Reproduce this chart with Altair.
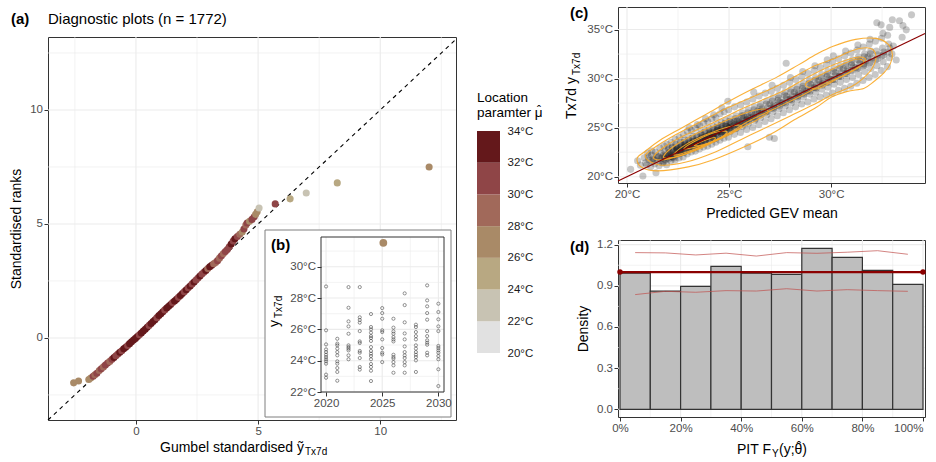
import altair as alt
import pandas as pd

FONT = "Liberation Sans"
INK = "#333333"
LABEL_GREY = "#4d4d4d"
GRID = "#ebebeb"
DARKRED = "#8b0000"
DEG = "datum.value + '°C'"

# ---------------- (a) Gumbel standardised values vs standardised ranks ----------------
a_x_lim = [-3.6, 13.1]
a_y_lim = [-3.6, 13.2]
a_major = [0, 5, 10]
a_minor = [-2.5, 2.5, 7.5, 12.5]

gumbel_std = [-2.55, -2.35, -1.93, -1.85, -1.75, -1.68, -1.60, -1.50, -1.42, -1.33,
              -1.25, -1.16, -1.07, -0.98, -0.90, -0.82, -0.74, -0.66, -0.58, -0.50,
              -0.42, -0.34, -0.26, -0.18, -0.10, -0.02, 0.06, 0.14, 0.22, 0.30,
              0.38, 0.46, 0.54, 0.62, 0.70, 0.78, 0.86, 0.94, 1.02, 1.10,
              1.18, 1.26, 1.34, 1.42, 1.50, 1.58, 1.66, 1.74, 1.82, 1.90,
              1.98, 2.06, 2.14, 2.22, 2.30, 2.38, 2.46, 2.54, 2.62, 2.70,
              2.78, 2.86, 2.94, 3.02, 3.10, 3.18, 3.26, 3.34, 3.42, 3.50,
              3.58, 3.66, 3.74, 3.82, 3.90, 3.98, 4.05, 4.15, 4.25, 4.35,
              4.42, 4.50, 4.55, 4.65, 4.75, 4.84, 4.90, 4.96, 5.04, 5.70,
              6.31, 6.97, 8.24, 12.00]
std_rank = [-1.97, -1.89, -1.82, -1.76, -1.68, -1.62, -1.55, -1.43, -1.35, -1.27,
            -1.19, -1.10, -1.03, -0.94, -0.86, -0.78, -0.71, -0.63, -0.56, -0.48,
            -0.41, -0.33, -0.25, -0.17, -0.09, -0.02, 0.06, 0.14, 0.22, 0.30,
            0.38, 0.47, 0.55, 0.63, 0.72, 0.80, 0.89, 0.98, 1.06, 1.15,
            1.23, 1.31, 1.39, 1.47, 1.55, 1.62, 1.70, 1.78, 1.86, 1.95,
            2.03, 2.11, 2.20, 2.28, 2.37, 2.45, 2.54, 2.63, 2.72, 2.80,
            2.88, 2.96, 3.04, 3.12, 3.19, 3.25, 3.31, 3.39, 3.50, 3.60,
            3.70, 3.79, 3.88, 4.00, 4.12, 4.25, 4.35, 4.45, 4.55, 4.65,
            4.78, 4.95, 5.04, 5.12, 5.20, 5.31, 5.42, 5.53, 5.70, 5.88,
            6.10, 6.36, 6.80, 7.50]
loc_mu = [27, 27, 27, 27, 31, 29, 31, 29, 31, 29,
          31, 31, 29, 31, 33, 31, 31, 33, 31, 33,
          33, 31, 33, 33, 33, 33, 33, 31, 33, 33,
          33, 33, 31, 33, 33, 33, 31, 33, 33, 33,
          31, 33, 33, 33, 31, 33, 33, 31, 33, 33,
          31, 33, 31, 33, 31, 33, 31, 31, 33, 31,
          31, 33, 29, 33, 33, 29, 29, 31, 29, 31,
          29, 31, 31, 31, 33, 31, 33, 31, 29, 27,
          31, 29, 31, 27, 31, 31, 27, 27, 23, 31,
          25, 23, 25, 27]

# binned colour key for the location parameter (°C)
mu_breaks = [22, 24, 26, 28, 30, 32]
mu_colors = ["#e1e1e1", "#c8c3b3", "#b8a882", "#a98a67", "#a1695a", "#8f4547", "#64181b"]
key_lo = [20, 22, 24, 26, 28, 30, 32]
key_hi = [22, 24, 26, 28, 30, 32, 34]
key_ticks = [20, 22, 24, 26, 28, 30, 32, 34]

# ---------------- (b) inset: Tx7d per year ----------------
b_year_lim = [2019.55, 2030.5]
b_temp_lim = [22.0, 31.9]
b_year_major = [2020, 2025, 2030]
b_year_minor = [2022.5, 2027.5]
b_temp_major = [22, 24, 26, 28, 30]
b_temp_minor = [23, 25, 27, 29, 31]
tx7d_by_year = {
    2020: [28.74, 25.94, 25.04, 24.72, 24.55, 24.38, 24.23, 24.09, 23.96, 23.81, 23.11, 22.91],
    2021: [25.40, 25.09, 24.98, 24.77, 24.55, 24.34, 23.96, 23.81, 23.53, 23.28, 22.72],
    2022: [28.70, 27.38, 26.51, 26.19, 25.72, 24.98, 24.87, 24.77, 24.66, 24.34, 24.09],
    2023: [28.70, 26.77, 26.60, 26.43, 25.89, 25.23, 25.13, 24.62, 24.51, 24.17, 23.60, 23.43],
    2024: [26.98, 26.15, 26.00, 25.79, 25.57, 25.45, 25.26, 24.87, 24.62, 24.45, 24.30, 24.09,
           23.79, 23.60, 23.36, 22.70],
    2025: [27.36, 27.04, 26.68, 25.94, 25.83, 25.36, 24.81, 24.51, 24.40, 23.91],
    2026: [26.68, 26.11, 25.87, 25.72, 25.51, 25.36, 25.23, 24.38, 24.23, 24.13, 23.91, 23.70, 23.23],
    2027: [28.30, 27.55, 26.45, 25.74, 25.36, 24.91, 24.55, 24.34, 24.17, 23.91, 23.70, 23.23],
    2028: [26.30, 26.15, 25.83, 25.57, 25.36, 24.98, 24.77, 24.55, 24.38, 24.23, 24.02, 23.28],
    2029: [28.81, 27.85, 27.47, 27.04, 26.62, 25.89, 25.57, 25.30, 25.15, 25.02, 24.51, 24.34],
    2030: [27.64, 27.11, 26.64, 26.19, 25.89, 24.94, 24.81, 24.66, 24.51, 24.30, 24.09, 23.45, 22.38],
}
record_year = [2025.1]
record_tx7d = [31.53]
record_mu = [27]

# ---------------- (c) observed Tx7d vs predicted GEV mean ----------------
c_x_lim = [19.56, 34.6]
c_y_lim = [19.36, 37.3]
c_x_major = [20, 25, 30]
c_x_minor = [22.5, 27.5, 32.5]
c_y_major = [20, 25, 30, 35]
c_y_minor = [22.5, 27.5, 32.5]

pred_low = [20.18, 20.52, 20.66, 20.78, 20.84, 20.91, 20.97, 21.04, 21.08, 21.01,
            21.16, 21.24, 21.19, 21.27, 21.22, 21.42, 21.36, 21.45, 21.39, 21.47, 21.33,
            21.57, 21.64, 21.55, 21.68, 21.61, 21.66, 21.74, 21.83, 21.78, 21.86, 21.81, 21.76, 21.88,
            21.94, 22.05, 21.98, 22.07, 22.02, 21.96, 22.09, 22.04,
            22.15, 22.24, 22.18, 22.27, 22.21, 22.16, 22.26, 22.23,
            22.35, 22.44, 22.38, 22.47, 22.41, 22.36, 22.46, 22.43, 22.39,
            22.55, 22.64, 22.58, 22.67, 22.61, 22.56, 22.66, 22.63, 22.59,
            22.75, 22.84, 22.78, 22.87, 22.81, 22.76, 22.86, 22.83, 22.79]
obs_low = [20.75, 21.62, 21.18, 20.07, 21.93, 21.41, 21.22, 22.02, 21.71, 22.41,
           21.02, 21.53, 22.21, 21.84, 22.63, 20.40, 21.31, 21.93, 22.52, 22.12, 21.72,
           21.12, 21.61, 22.03, 22.42, 22.93, 21.83, 21.41, 21.92, 22.22, 22.61, 23.12, 22.03, 21.72,
           21.23, 21.82, 22.13, 22.41, 22.72, 23.31, 22.02, 22.93,
           21.62, 22.03, 22.32, 22.61, 22.92, 23.52, 22.21, 23.03,
           21.71, 22.22, 22.51, 22.83, 23.12, 23.82, 22.41, 22.72, 23.31,
           21.92, 22.42, 22.71, 23.02, 23.33, 24.03, 22.62, 23.52, 22.93,
           22.02, 22.61, 22.92, 23.23, 23.52, 24.31, 22.81, 23.72, 23.02]

pred_core = [22.95, 23.04, 22.98, 23.07, 23.01, 22.96, 23.06, 23.03, 22.99, 23.05,
             23.15, 23.24, 23.18, 23.27, 23.21, 23.16, 23.26, 23.23, 23.19,
             23.35, 23.44, 23.38, 23.47, 23.41, 23.36, 23.46, 23.43, 23.39, 23.45,
             23.55, 23.64, 23.58, 23.67, 23.61, 23.56, 23.66, 23.63, 23.59,
             23.75, 23.84, 23.78, 23.87, 23.81, 23.76, 23.86, 23.83, 23.79, 23.85,
             23.95, 24.04, 23.98, 24.07, 24.01, 23.96, 24.06, 24.03, 23.99,
             24.15, 24.24, 24.18, 24.27, 24.21, 24.16, 24.26, 24.23, 24.19, 24.25,
             24.35, 24.44, 24.38, 24.47, 24.41, 24.36, 24.46, 24.43, 24.39,
             24.55, 24.64, 24.58, 24.67, 24.61, 24.56, 24.66, 24.63, 24.59, 24.65,
             24.75, 24.84, 24.78, 24.87, 24.81, 24.76, 24.86, 24.83, 24.94]
obs_core = [22.31, 22.82, 23.12, 23.41, 23.72, 24.62, 23.02, 23.92, 23.22, 25.01,
            22.52, 23.02, 23.31, 23.62, 23.93, 24.72, 23.21, 24.12, 23.42,
            22.61, 23.12, 23.42, 23.71, 24.02, 24.93, 23.32, 24.21, 23.52, 25.31,
            22.82, 23.31, 23.62, 23.92, 24.32, 25.22, 23.52, 24.51, 23.82,
            23.02, 23.52, 23.82, 24.12, 24.52, 25.51, 23.72, 24.71, 24.02, 25.92,
            23.12, 23.72, 24.02, 24.31, 24.62, 25.62, 23.92, 24.91, 24.22,
            23.31, 23.82, 24.22, 24.52, 24.82, 25.91, 24.12, 25.12, 24.42, 26.31,
            23.52, 24.02, 24.42, 24.72, 25.02, 26.02, 24.32, 25.31, 24.62,
            23.72, 24.22, 24.62, 24.92, 25.22, 26.42, 24.52, 25.52, 24.82, 27.02,
            23.92, 24.42, 24.82, 25.12, 25.42, 26.62, 24.72, 25.72, 27.70]

pred_mid = [24.97, 25.06, 25.01, 25.09, 25.03, 24.98, 25.08, 25.05, 25.02,
            25.26, 25.35, 25.29, 25.38, 25.32, 25.27, 25.37, 25.34,
            25.56, 25.65, 25.59, 25.68, 25.62, 25.57, 25.67, 25.64, 25.92,
            25.86, 25.95, 25.89, 25.98, 25.92, 25.87, 25.97, 25.94,
            26.16, 26.25, 26.19, 26.28, 26.22, 26.17, 26.27, 26.24, 26.21,
            26.46, 26.55, 26.49, 26.58, 26.52, 26.47, 26.57, 26.54,
            26.76, 26.85, 26.79, 26.88, 26.82, 26.77, 26.87, 26.84, 26.98,
            27.06, 27.15, 27.09, 27.18, 27.12, 27.07, 27.17, 27.14, 27.11, 27.22,
            27.36, 27.45, 27.39, 27.48, 27.42, 27.37, 27.47, 27.44,
            27.66, 27.75, 27.69, 27.78, 27.72, 27.67, 27.77, 27.74, 27.80]
obs_mid = [24.02, 24.62, 25.02, 25.32, 25.62, 26.82, 24.92, 25.92, 25.22,
           24.32, 24.92, 25.32, 25.62, 25.92, 27.12, 25.22, 26.22,
           24.52, 25.12, 25.52, 25.82, 26.22, 27.32, 25.42, 26.52, 23.06,
           24.82, 25.42, 25.82, 26.12, 26.52, 27.62, 25.72, 26.82,
           25.02, 25.72, 26.12, 26.42, 26.82, 27.92, 26.02, 27.12, 28.62,
           25.32, 26.02, 26.42, 26.72, 27.12, 28.22, 26.32, 27.42,
           25.62, 26.32, 26.72, 27.02, 27.42, 28.52, 26.62, 27.72, 24.02,
           25.92, 26.62, 27.02, 27.32, 27.72, 28.72, 26.92, 28.02, 29.32, 23.90,
           26.22, 26.92, 27.32, 27.62, 28.02, 29.02, 27.22, 28.32,
           26.52, 27.22, 27.62, 27.92, 28.32, 29.32, 27.52, 28.62, 31.57]

pred_high = [27.96, 28.05, 27.99, 28.08, 28.02, 27.97, 28.07, 28.04, 28.01,
             28.26, 28.35, 28.29, 28.38, 28.32, 28.27, 28.37, 28.34,
             28.56, 28.65, 28.59, 28.68, 28.62, 28.57, 28.67, 28.64, 28.61,
             28.86, 28.95, 28.89, 28.98, 28.92, 28.87, 28.97, 28.94,
             29.16, 29.25, 29.19, 29.28, 29.22, 29.17, 29.27, 29.24, 29.21,
             29.46, 29.55, 29.49, 29.58, 29.52, 29.47, 29.57, 29.54,
             29.76, 29.85, 29.79, 29.88, 29.82, 29.77, 29.87, 29.84, 29.81,
             30.06, 30.15, 30.09, 30.18, 30.12, 30.07, 30.17, 30.14, 30.11,
             30.36, 30.45, 30.39, 30.48, 30.42, 30.37, 30.47, 30.44,
             30.66, 30.75, 30.69, 30.78, 30.72, 30.67, 30.77, 30.74, 30.71]
obs_high = [26.82, 27.52, 27.92, 28.22, 28.62, 29.62, 27.82, 28.92, 30.12,
            27.12, 27.82, 28.22, 28.52, 28.92, 29.92, 28.12, 29.22,
            27.42, 28.12, 28.52, 28.82, 29.22, 30.22, 28.42, 29.52, 30.72,
            27.62, 28.42, 28.82, 29.12, 29.52, 30.52, 28.72, 29.82,
            27.92, 28.62, 29.12, 29.42, 29.82, 30.82, 29.02, 30.12, 31.32,
            28.12, 28.92, 29.42, 29.72, 30.12, 31.12, 29.32, 30.42,
            28.32, 29.12, 29.62, 30.02, 30.42, 31.42, 29.62, 30.72, 31.92,
            28.52, 29.42, 29.92, 30.32, 30.72, 31.72, 29.92, 31.02, 32.32,
            28.82, 29.62, 30.22, 30.62, 31.02, 32.02, 30.22, 31.32,
            29.02, 29.92, 30.52, 30.92, 31.32, 32.32, 30.52, 31.62, 32.82]

pred_top = [30.96, 31.05, 30.99, 31.08, 31.02, 30.97, 31.07, 31.04,
            31.26, 31.35, 31.29, 31.38, 31.32, 31.27, 31.37, 31.34, 31.31,
            31.56, 31.65, 31.59, 31.68, 31.62, 31.57, 31.67, 31.64,
            31.86, 31.95, 31.89, 31.98, 31.92, 31.87, 31.97, 31.94, 31.91,
            32.16, 32.25, 32.19, 32.28, 32.22, 32.17, 32.27, 32.24, 32.45,
            32.46, 32.55, 32.49, 32.58, 32.52, 32.47, 32.57, 32.54,
            32.76, 32.85, 32.79, 32.88, 32.82, 32.77, 32.87,
            33.00, 33.05, 32.98, 33.19, 33.35, 33.68, 33.94, 33.48, 33.52]
obs_top = [29.22, 30.12, 30.82, 31.22, 31.62, 32.62, 30.82, 31.92,
           29.52, 30.42, 31.02, 31.52, 31.92, 32.92, 31.12, 32.22, 33.42,
           29.82, 30.72, 31.32, 31.82, 32.22, 33.22, 31.42, 32.52,
           30.12, 31.02, 31.62, 32.12, 32.52, 33.52, 31.72, 32.82, 34.02,
           30.42, 31.32, 31.92, 32.42, 32.82, 33.82, 32.02, 35.70, 35.48,
           30.82, 31.72, 32.32, 32.72, 33.12, 34.12, 32.42, 34.62,
           31.22, 32.12, 32.72, 33.12, 33.52, 34.42, 35.22,
           36.00, 33.32, 32.52, 31.90, 35.90, 34.97, 36.50, 34.22, 35.42]

# densely packed points close to the 1:1 line
pred_dense = [21.8, 21.9, 22.0, 22.1, 22.2, 22.3, 22.4, 22.5, 22.6, 22.7,
              22.8, 22.9, 23.0, 23.1, 23.2, 23.3, 23.4, 23.5, 23.6, 23.7,
              23.8, 23.9, 24.0, 24.1, 24.2, 24.3, 24.4, 24.5, 24.6, 24.7,
              24.8, 24.9, 25.0, 25.1, 25.2, 25.3, 25.4, 25.5, 25.6, 25.7,
              25.8, 25.9, 26.0, 26.1, 26.2, 26.3, 26.4, 26.5,
              22.05, 22.25, 22.45, 22.65, 22.85, 23.05, 23.25, 23.45, 23.65, 23.85,
              24.05, 24.25, 24.45, 24.65, 24.85, 25.05, 25.25, 25.45, 25.65, 25.85,
              26.6, 26.8, 27.0, 27.2, 27.4, 27.6, 27.8, 28.0, 28.2, 28.4,
              28.6, 28.8, 29.0, 29.2, 29.4, 29.6, 29.8, 30.0, 30.2, 30.4,
              30.6, 30.8, 31.0, 31.2, 31.4, 31.6, 31.8]
obs_dense = [21.5, 22.1, 21.9, 22.5, 22.2, 21.9, 22.7, 22.6, 22.4, 23.2,
             22.5, 23.1, 22.9, 23.5, 23.2, 22.9, 23.7, 23.6, 23.4, 24.2,
             23.5, 24.1, 23.9, 24.5, 24.2, 23.9, 24.7, 24.6, 24.4, 25.2,
             24.5, 25.1, 24.9, 25.5, 25.2, 24.9, 25.7, 25.6, 25.4, 26.2,
             25.5, 26.1, 25.9, 26.5, 26.2, 25.9, 26.7, 26.6,
             22.3, 22.0, 22.9, 22.7, 23.3, 23.0, 23.6, 23.3, 24.0, 23.8,
             24.4, 24.0, 24.9, 24.6, 25.2, 25.0, 25.6, 25.3, 26.0, 25.8,
             26.9, 26.6, 27.4, 27.1, 27.8, 27.5, 28.2, 27.9, 28.6, 28.3,
             29.0, 28.7, 29.4, 29.1, 29.8, 29.5, 30.2, 29.9, 30.6, 30.3,
             31.0, 30.7, 31.4, 31.1, 31.8, 31.5, 32.2]

# 2-D density contour rings (predicted, observed)
ring1_pred = [20.5, 20.9, 21.6, 22.7, 23.9, 25.0, 26.0, 27.3, 28.4, 29.3, 30.1, 31.2, 32.2, 32.8,
              33.0, 32.9, 32.6, 32.1, 31.6, 30.8, 30.0, 29.3, 28.2, 27.1, 25.7, 24.2, 23.0, 21.5, 20.7]
ring1_obs = [21.9, 22.6, 23.7, 25.0, 26.4, 27.7, 28.8, 30.1, 31.4, 32.5, 33.3, 34.0, 34.1, 33.5,
             32.5, 31.5, 30.6, 29.7, 29.0, 28.7, 28.1, 27.1, 25.8, 24.4, 23.0, 21.7, 21.0, 20.6, 21.0]
ring2_pred = [20.9, 21.3, 22.4, 23.6, 24.8, 26.0, 27.2, 28.3, 29.2, 30.1, 31.1, 31.9, 32.2, 32.0,
              31.5, 31.0, 30.1, 29.1, 28.0, 26.9, 25.6, 24.3, 22.9, 21.6]
ring2_obs = [22.0, 22.9, 24.3, 25.6, 26.9, 28.0, 29.1, 30.3, 31.3, 32.0, 32.9, 33.1, 32.3, 31.0,
             29.9, 29.2, 28.4, 27.3, 26.2, 25.1, 23.8, 22.5, 21.5, 21.2]
ring3_pred = [21.3, 21.8, 22.8, 24.0, 25.3, 26.6, 27.8, 28.9, 30.0, 30.9, 31.4, 31.7, 31.4, 30.6,
              29.6, 28.5, 27.2, 26.0, 24.8, 23.5, 22.2, 21.6]
ring3_obs = [22.0, 23.0, 24.2, 25.3, 26.6, 27.8, 28.9, 30.2, 31.3, 32.0, 32.2, 31.9, 31.2, 30.3,
             29.4, 28.2, 26.9, 25.7, 24.2, 22.8, 21.9, 21.7]
ring4_pred = [21.8, 22.3, 23.3, 24.6, 25.8, 26.7, 26.9, 26.3, 25.2, 23.9, 22.7, 22.0]
ring4_obs = [22.1, 23.1, 24.3, 25.5, 26.5, 26.9, 26.5, 25.7, 24.6, 23.3, 22.2, 21.9]
ring5_pred = [22.3, 22.9, 23.9, 25.0, 25.6, 25.3, 24.4, 23.3, 22.6]
ring5_obs = [22.3, 23.3, 24.3, 25.1, 25.2, 24.6, 23.7, 22.8, 22.3]
ring6_pred = [22.8, 23.4, 24.3, 24.9, 24.6, 23.7, 23.1]
ring6_obs = [22.9, 23.7, 24.5, 24.6, 24.0, 23.2, 22.9]
ring7_pred = [23.3, 23.8, 24.3, 24.2, 23.6]
ring7_obs = [23.2, 23.7, 24.0, 23.6, 23.2]
ring8_pred = [28.8, 29.8, 30.7, 31.3, 31.6, 31.2, 30.4, 29.4, 28.9]
ring8_obs = [29.6, 30.7, 31.6, 32.0, 31.7, 31.0, 30.1, 29.0, 29.1]

# ---------------- (d) PIT histogram ----------------
d_x_lim = [-0.0066, 1.0066]
d_y_lim = [-0.056, 1.234]
d_x_major = [0, 0.2, 0.4, 0.6, 0.8, 1.0]
d_x_minor = [0.1, 0.3, 0.5, 0.7, 0.9]
d_y_major = [0, 0.3, 0.6, 0.9, 1.2]
d_y_minor = [0.15, 0.45, 0.75, 1.05]
pit_lo = [0.0, 0.1, 0.2, 0.3, 0.4, 0.5, 0.6, 0.7, 0.8, 0.9]
pit_hi = [0.1, 0.2, 0.3, 0.4, 0.5, 0.6, 0.7, 0.8, 0.9, 1.0]
pit_density = [0.993, 0.862, 0.896, 1.042, 0.993, 0.984, 1.173, 1.108, 1.013, 0.911]
pit_mid = [0.05, 0.15, 0.25, 0.35, 0.45, 0.55, 0.65, 0.75, 0.85, 0.95]
band_upper = [1.142, 1.140, 1.125, 1.138, 1.117, 1.142, 1.137, 1.145, 1.156, 1.130]
band_lower = [0.836, 0.860, 0.853, 0.865, 0.862, 0.879, 0.862, 0.872, 0.865, 0.860]
uniform_x = [0.0, 1.0]
uniform_density = [1.0, 1.0]

# ======================================================================
color_scale = alt.Scale(type="threshold", domain=mu_breaks, range=mu_colors)
NO_FRAME = alt.ViewBackground(stroke="transparent")


def lin(domain, rng=None):
    if rng is None:
        return alt.Scale(domain=domain, nice=False, zero=False)
    return alt.Scale(domain=domain, range=rng, nice=False, zero=False)


def label(text, x, y, size=14, weight="normal", align="left", angle=0, color="black"):
    kw = dict(align=align, baseline="alphabetic", font=FONT, fontSize=size,
              fontWeight=weight, color=color)
    if angle:
        kw["angle"] = angle
    return alt.Chart(pd.DataFrame({"t": [text]})).mark_text(**kw).encode(
        text="t:N", x=alt.value(x), y=alt.value(y))


def vgrid(values, sx, ax, width, span=None, sy=None, ay=None):
    df = pd.DataFrame({"v": values})
    enc = dict(x=alt.X("v:Q", scale=sx, axis=ax))
    if span is not None:
        df["lo"] = span[0]
        df["hi"] = span[1]
        enc["y"] = alt.Y("lo:Q", scale=sy, axis=ay)
        enc["y2"] = "hi:Q"
    return alt.Chart(df).mark_rule(color=GRID, strokeWidth=width).encode(**enc)


def hgrid(values, sy, ay, width, span=None, sx=None, ax=None):
    df = pd.DataFrame({"v": values})
    enc = dict(y=alt.Y("v:Q", scale=sy, axis=ay))
    if span is not None:
        df["lo"] = span[0]
        df["hi"] = span[1]
        enc["x"] = alt.X("lo:Q", scale=sx, axis=ax)
        enc["x2"] = "hi:Q"
    return alt.Chart(df).mark_rule(color=GRID, strokeWidth=width).encode(**enc)


# ---------------- panel (a) ----------------
W_A, H_A = 408, 383
sx_a, sy_a = lin(a_x_lim), lin(a_y_lim)
ax_a_x = alt.Axis(values=a_major, title=None)
ax_a_y = alt.Axis(values=a_major, title="Standardised ranks", titlePadding=6)

qq_df = pd.DataFrame({"g": gumbel_std, "r": std_rank, "mu": loc_mu})
diag_df = pd.DataFrame({"g": a_x_lim})

title_a = alt.layer(
    label("(a)", -37, 17, size=15, weight="bold"),
    label("Diagnostic plots (n = 1772)", 0, 17, size=15),
).properties(width=W_A, height=20, view=NO_FRAME)

panel_a_main = alt.layer(
    vgrid(a_minor, sx_a, ax_a_x, 0.6),
    hgrid(a_minor, sy_a, ax_a_y, 0.6),
    vgrid(a_major, sx_a, ax_a_x, 1.1),
    hgrid(a_major, sy_a, ax_a_y, 1.1),
    alt.Chart(diag_df).mark_line(color="black", strokeDash=[4, 4], strokeWidth=1.1).encode(
        x=alt.X("g:Q", scale=sx_a, axis=ax_a_x), y=alt.Y("g:Q", scale=sy_a, axis=ax_a_y)),
    alt.Chart(qq_df).mark_circle(size=50, opacity=1).encode(
        x=alt.X("g:Q", scale=sx_a, axis=ax_a_x), y=alt.Y("r:Q", scale=sy_a, axis=ax_a_y),
        color=alt.Color("mu:Q", scale=color_scale, legend=None)),
    label("Gumbel standardised ỹ", 256, 415, size=14, align="right"),
    label("Tx7d", 257, 418, size=10),
)

# inset (b), drawn inside panel (a) on its own scales
sx_b = lin(b_year_lim, [273, 396])
sy_b = lin(b_temp_lim, [355, 200])
ax_b_x = alt.Axis(values=b_year_major, format="d", orient="bottom", offset=-28, title=None, zindex=2)
ax_b_y = alt.Axis(values=b_temp_major, labelExpr=DEG, orient="left", offset=-273, title=None, zindex=2)

yr, tx = [], []
for year, vals in tx7d_by_year.items():
    yr += [year] * len(vals)
    tx += vals
inset_df = pd.DataFrame({"year": yr, "tx": tx})
record_df = pd.DataFrame({"year": record_year, "tx": record_tx7d, "mu": record_mu})
frame_df = pd.DataFrame({"x0": [b_year_lim[0]], "x1": [b_year_lim[1]],
                         "y0": [b_temp_lim[0]], "y1": [b_temp_lim[1]]})

panel_b = alt.layer(
    alt.Chart(pd.DataFrame({"k": [0]})).mark_rect(fill="white", stroke="#7f7f7f", strokeWidth=1).encode(
        x=alt.value(217), x2=alt.value(403), y=alt.value(193), y2=alt.value(380)),
    vgrid(b_year_minor, sx_b, ax_b_x, 0.6, b_temp_lim, sy_b, ax_b_y),
    hgrid(b_temp_minor, sy_b, ax_b_y, 0.6, b_year_lim, sx_b, ax_b_x),
    vgrid(b_year_major, sx_b, ax_b_x, 1.1, b_temp_lim, sy_b, ax_b_y),
    hgrid(b_temp_major, sy_b, ax_b_y, 1.1, b_year_lim, sx_b, ax_b_x),
    alt.Chart(inset_df).mark_point(shape="circle", filled=False, size=10, strokeWidth=0.8,
                                   color="#3a3a3a", opacity=0.7).encode(
        x=alt.X("year:Q", scale=sx_b, axis=ax_b_x), y=alt.Y("tx:Q", scale=sy_b, axis=ax_b_y)),
    alt.Chart(record_df).mark_circle(size=60, opacity=1).encode(
        x=alt.X("year:Q", scale=sx_b, axis=ax_b_x), y=alt.Y("tx:Q", scale=sy_b, axis=ax_b_y),
        color=alt.Color("mu:Q", scale=color_scale, legend=None)),
    alt.Chart(frame_df).mark_rect(fillOpacity=0, stroke=INK, strokeWidth=1).encode(
        x=alt.X("x0:Q", scale=sx_b, axis=ax_b_x), x2="x1:Q",
        y=alt.Y("y0:Q", scale=sy_b, axis=ax_b_y), y2="y1:Q"),
    label("(b)", 223, 213, size=15, weight="bold"),
    label("y", 231, 283, size=14, align="right", angle=270),
    label("Tx7d", 234, 281, size=10, align="left", angle=270),
)

# binned colour key to the right of panel (a)
sy_key = lin([20, 34], [316, 94])
ax_key = alt.Axis(values=key_ticks, labelExpr=DEG, orient="right", offset=44, ticks=False,
                  labelPadding=7, labelColor="#1a1a1a", title=None)
key_df = pd.DataFrame({"lo": key_lo, "hi": key_hi})
key_df["mid"] = (key_df["lo"] + key_df["hi"]) / 2
panel_key = alt.layer(
    alt.Chart(key_df).mark_rect().encode(
        x=alt.value(429), x2=alt.value(452),
        y=alt.Y("lo:Q", scale=sy_key, axis=ax_key), y2="hi:Q",
        color=alt.Color("mid:Q", scale=color_scale, legend=None)),
    label("Location", 429, 65, size=13.5),
    label("paramter μ", 429, 80, size=13.5),
    label("ˆ", 491, 78, size=12, align="center"),
)

panel_a = alt.layer(panel_a_main, panel_b, panel_key).resolve_scale(
    x="independent", y="independent").properties(width=W_A, height=H_A)

# ---------------- panel (c) ----------------
sx_c, sy_c = lin(c_x_lim), lin(c_y_lim)
ax_c_x = alt.Axis(values=c_x_major, labelExpr=DEG, title="Predicted GEV mean", titlePadding=6)
ax_c_y = alt.Axis(values=c_y_major, labelExpr=DEG, title=None)

scatter_df = pd.DataFrame({"p": pred_low + pred_core + pred_mid + pred_high + pred_top + pred_dense,
                           "o": obs_low + obs_core + obs_mid + obs_high + obs_top + obs_dense})
rings = [(ring1_pred, ring1_obs), (ring2_pred, ring2_obs), (ring3_pred, ring3_obs),
         (ring4_pred, ring4_obs), (ring5_pred, ring5_obs), (ring6_pred, ring6_obs),
         (ring7_pred, ring7_obs), (ring8_pred, ring8_obs)]
ring_rows = []
for k, (px, py) in enumerate(rings):
    for i, (u, v) in enumerate(zip(px, py)):
        ring_rows.append({"ring": k, "i": i, "p": u, "o": v})
ring_df = pd.DataFrame(ring_rows)
ident_df = pd.DataFrame({"p": c_x_lim})

panel_c = alt.layer(
    vgrid(c_x_minor, sx_c, ax_c_x, 0.6),
    hgrid(c_y_minor, sy_c, ax_c_y, 0.6),
    vgrid(c_x_major, sx_c, ax_c_x, 1.1),
    hgrid(c_y_major, sy_c, ax_c_y, 1.1),
    alt.Chart(scatter_df).mark_circle(size=50, color="#1a1a1a", opacity=0.24).encode(
        x=alt.X("p:Q", scale=sx_c, axis=ax_c_x), y=alt.Y("o:Q", scale=sy_c, axis=ax_c_y)),
    alt.Chart(ring_df).mark_line(interpolate="cardinal-closed", color="#f9a825", strokeWidth=1.1,
                                 opacity=0.9).encode(
        x=alt.X("p:Q", scale=sx_c, axis=ax_c_x), y=alt.Y("o:Q", scale=sy_c, axis=ax_c_y),
        detail="ring:N", order="i:Q"),
    alt.Chart(ident_df).mark_line(color=DARKRED, strokeWidth=1.2).encode(
        x=alt.X("p:Q", scale=sx_c, axis=ax_c_x), y=alt.Y("p:Q", scale=sy_c, axis=ax_c_y)),
    label("(c)", -48, 11, size=15, weight="bold"),
    label("Tx7d y", -42, 70, size=14, align="right", angle=270),
    label("Tx7d", -38, 68, size=10, align="left", angle=270),
).properties(width=307, height=176)

# ---------------- panel (d) ----------------
sx_d, sy_d = lin(d_x_lim), lin(d_y_lim)
ax_d_x = alt.Axis(values=d_x_major, format=".0%", title=None,
                  labelAlign={"condition": {"test": "datum.value == 1", "value": "right"},
                              "value": "center"})
ax_d_y = alt.Axis(values=d_y_major, format=".1f", title="Density", titlePadding=6)

hist_df = pd.DataFrame({"lo": pit_lo, "hi": pit_hi, "dens": pit_density})
band_df = pd.DataFrame({"m": pit_mid * 2, "v": band_upper + band_lower,
                        "side": ["upper"] * 10 + ["lower"] * 10})
unif_df = pd.DataFrame({"x": uniform_x, "v": uniform_density})

panel_d = alt.layer(
    vgrid(d_x_minor, sx_d, ax_d_x, 0.6),
    hgrid(d_y_minor, sy_d, ax_d_y, 0.6),
    vgrid(d_x_major, sx_d, ax_d_x, 1.1),
    hgrid(d_y_major, sy_d, ax_d_y, 1.1),
    alt.Chart(hist_df).mark_rect(fill="#bebebe", stroke=INK, strokeWidth=1.2).encode(
        x=alt.X("lo:Q", scale=sx_d, axis=ax_d_x), x2="hi:Q",
        y=alt.Y("dens:Q", scale=sy_d, axis=ax_d_y), y2=alt.datum(0)),
    alt.Chart(band_df).mark_line(color="#c0504d", strokeWidth=1, opacity=0.7).encode(
        x=alt.X("m:Q", scale=sx_d, axis=ax_d_x), y=alt.Y("v:Q", scale=sy_d, axis=ax_d_y),
        detail="side:N"),
    alt.Chart(unif_df).mark_line(color=DARKRED, strokeWidth=2.2).encode(
        x=alt.X("x:Q", scale=sx_d, axis=ax_d_x), y=alt.Y("v:Q", scale=sy_d, axis=ax_d_y)),
    alt.Chart(unif_df).mark_circle(color=DARKRED, size=30, opacity=1).encode(
        x=alt.X("x:Q", scale=sx_d, axis=ax_d_x), y=alt.Y("v:Q", scale=sy_d, axis=ax_d_y)),
    label("(d)", -48, 12, size=15, weight="bold"),
    label("PIT F", 153, 214, size=14, align="right"),
    label("Y", 154, 217, size=10),
    label("(y;θ)", 161, 214, size=14),
    label("ˆ", 181, 211, size=13, align="center"),
).properties(width=307, height=177)

chart = alt.hconcat(
    alt.vconcat(title_a, panel_a, spacing=7),
    alt.vconcat(panel_c, panel_d, spacing=17),
    spacing=20,
).properties(
    padding={"left": 9, "top": 5, "right": 0, "bottom": 0}
).configure(
    font=FONT
).configure_view(
    stroke=INK, strokeWidth=1
).configure_axis(
    grid=False, domain=False,
    labelFont=FONT, labelFontSize=11.5, labelColor=LABEL_GREY, labelPadding=1.5,
    tickColor=INK, tickSize=4, tickWidth=1,
    titleFont=FONT, titleFontSize=14, titleFontWeight="normal", titleColor="black",
)

chart.save("out.html", embed_options={"renderer": "svg", "actions": False})
